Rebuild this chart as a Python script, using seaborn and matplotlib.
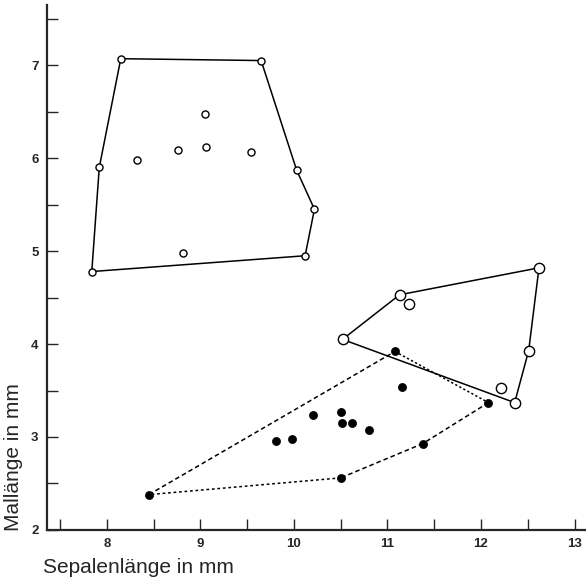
import matplotlib
matplotlib.use("Agg")
import matplotlib.pyplot as plt
import seaborn as sns
import pandas as pd

# group A: small open circles
a_x = [8.15, 9.65, 7.92, 7.84, 8.32, 8.76, 9.05, 9.06, 9.54, 10.03, 8.82, 10.22, 10.12]
a_y = [7.07, 7.05, 5.90, 4.78, 5.98, 6.09, 6.47, 6.12, 6.07, 5.87, 4.98, 5.45, 4.95]
a_hull = [3, 2, 0, 1, 9, 11, 12, 3]

# group B: large open circles
b_x = [11.13, 11.23, 10.52, 12.21, 12.36, 12.51, 12.62]
b_y = [4.53, 4.43, 4.05, 3.53, 3.37, 3.93, 4.82]
b_hull = [2, 0, 6, 5, 4, 2]

# group C: filled dots
c_x = [11.08, 11.16, 12.08, 11.38, 10.50, 10.20, 10.50, 10.51, 10.62, 10.80, 9.98, 9.81, 8.45]
c_y = [3.92, 3.54, 3.37, 2.93, 2.56, 3.24, 3.27, 3.15, 3.15, 3.08, 2.98, 2.96, 2.38]
c_hull = [12, 0, 2, 3, 4, 12]
c_styles = [(0, (3, 2)), (0, (1.5, 1.5)), (0, (3, 2)), (0, (3, 2)), (0, (1.8, 1.8))]

x_ticks = [8, 9, 10, 11, 12, 13]
y_ticks = [2, 3, 4, 5, 6, 7]

sns.set_style("ticks")
plt.rcParams["font.family"] = ["Liberation Sans", "DejaVu Sans"]

fig = plt.figure(figsize=(5.86, 5.83), dpi=100)
ax = fig.add_axes([0.080, 0.091, 0.918, 0.900])

# hull outlines
ax.plot([a_x[i] for i in a_hull], [a_y[i] for i in a_hull], color="black", lw=1.1, zorder=1)
ax.plot([b_x[i] for i in b_hull], [b_y[i] for i in b_hull], color="black", lw=1.1, zorder=1)
for k in range(len(c_hull) - 1):
    i, j = c_hull[k], c_hull[k + 1]
    ax.plot([c_x[i], c_x[j]], [c_y[i], c_y[j]], color="black", lw=1.1,
            linestyle=c_styles[k], zorder=1)

df_a = pd.DataFrame({"x": a_x, "y": a_y})
df_b = pd.DataFrame({"x": b_x, "y": b_y})
df_c = pd.DataFrame({"x": c_x, "y": c_y})
sns.scatterplot(data=df_a, x="x", y="y", ax=ax, s=26, facecolor="white",
                edgecolor="black", linewidth=1.0, zorder=3)
sns.scatterplot(data=df_b, x="x", y="y", ax=ax, s=55, facecolor="white",
                edgecolor="black", linewidth=1.0, zorder=3)
sns.scatterplot(data=df_c, x="x", y="y", ax=ax, s=34, color="black",
                edgecolor="black", linewidth=0.5, zorder=3)

ax.set_xlim(7.36, 13.11)
ax.set_ylim(2.0, 7.645)
ax.set_xticks(x_ticks)
ax.set_yticks(y_ticks)
ax.set_xticks([7.5, 8.5, 9.5, 10.5, 11.5, 12.5], minor=True)
ax.set_yticks([2.5, 3.5, 4.5, 5.5, 6.5, 7.5], minor=True)
ax.tick_params(which="both", direction="in", length=8, width=1.0, labelsize=9.5)
ax.tick_params(axis="x", pad=6)
ax.tick_params(axis="y", pad=6)
for lab in ax.get_xticklabels() + ax.get_yticklabels():
    lab.set_fontweight("bold")

sns.despine(ax=ax)
ax.spines["left"].set_linewidth(1.6)
ax.spines["bottom"].set_linewidth(1.6)

ax.set_xlabel("Sepalenlänge in mm", fontsize=15)
ax.set_ylabel("Mallänge in mm", fontsize=15)
ax.xaxis.set_label_coords(0.17, -0.053)
ax.yaxis.set_label_coords(-0.045, 0.139)

fig.savefig("out.png", dpi=100)
